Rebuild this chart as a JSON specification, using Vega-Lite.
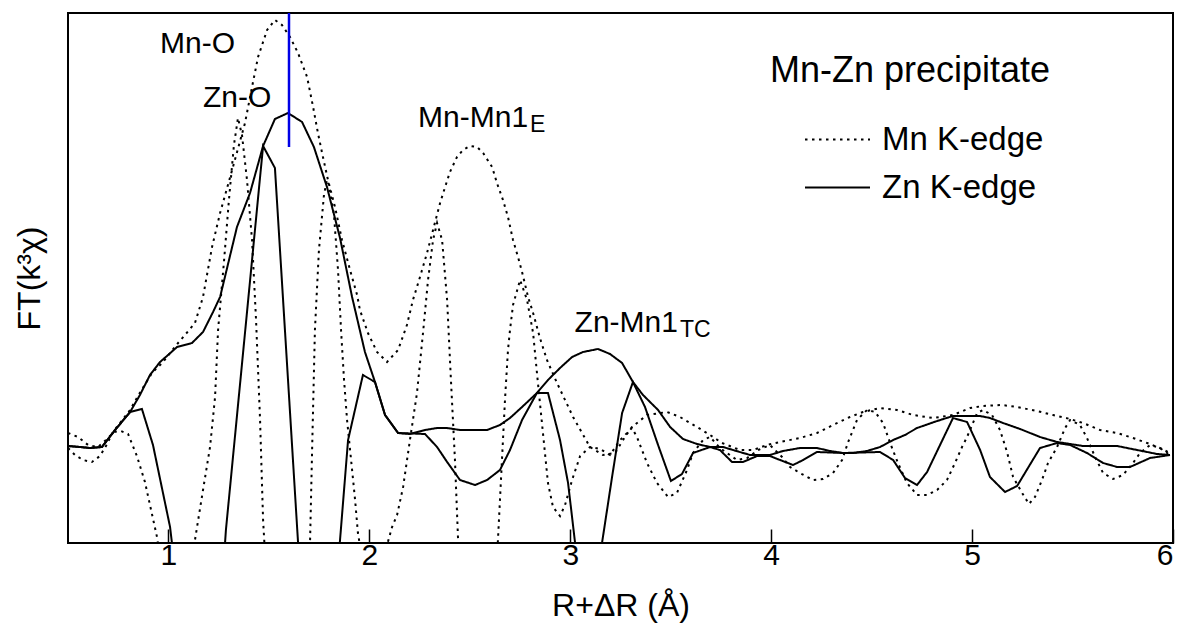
{
  "$schema": "https://vega.github.io/schema/vega-lite/v6.json",
  "width": 1105,
  "height": 530,
  "autosize": "none",
  "padding": {"left": 68, "top": 13, "right": 12, "bottom": 91},
  "config": {"view": {"stroke": "black", "strokeWidth": 2}, "font": "Liberation Sans"},
  "datasets": {
    "ft": [
      {"edge":"Mn K-edge","part":"magnitude","R":0.500,"FT":0.14},{"edge":"Mn K-edge","part":"magnitude","R":0.535,"FT":0.00},{"edge":"Mn K-edge","part":"magnitude","R":0.575,"FT":-0.10},{"edge":"Mn K-edge","part":"magnitude","R":0.619,"FT":-0.14},{"edge":"Mn K-edge","part":"magnitude","R":0.659,"FT":-0.02},{"edge":"Mn K-edge","part":"magnitude","R":0.689,"FT":0.18},{"edge":"Mn K-edge","part":"magnitude","R":0.724,"FT":0.46},{"edge":"Mn K-edge","part":"magnitude","R":0.759,"FT":0.64},{"edge":"Mn K-edge","part":"magnitude","R":0.809,"FT":0.90},{"edge":"Mn K-edge","part":"magnitude","R":0.848,"FT":1.18},{"edge":"Mn K-edge","part":"magnitude","R":0.918,"FT":1.64},{"edge":"Mn K-edge","part":"magnitude","R":0.973,"FT":1.86},{"edge":"Mn K-edge","part":"magnitude","R":1.008,"FT":2.04},{"edge":"Mn K-edge","part":"magnitude","R":1.048,"FT":2.24},{"edge":"Mn K-edge","part":"magnitude","R":1.082,"FT":2.40},{"edge":"Mn K-edge","part":"magnitude","R":1.132,"FT":2.64},{"edge":"Mn K-edge","part":"magnitude","R":1.172,"FT":3.16},{"edge":"Mn K-edge","part":"magnitude","R":1.217,"FT":4.16},{"edge":"Mn K-edge","part":"magnitude","R":1.257,"FT":4.84},{"edge":"Mn K-edge","part":"magnitude","R":1.321,"FT":5.76},{"edge":"Mn K-edge","part":"magnitude","R":1.381,"FT":6.64},{"edge":"Mn K-edge","part":"magnitude","R":1.416,"FT":7.36},{"edge":"Mn K-edge","part":"magnitude","R":1.446,"FT":7.96},{"edge":"Mn K-edge","part":"magnitude","R":1.491,"FT":8.50},{"edge":"Mn K-edge","part":"magnitude","R":1.530,"FT":8.70},{"edge":"Mn K-edge","part":"magnitude","R":1.565,"FT":8.60},{"edge":"Mn K-edge","part":"magnitude","R":1.605,"FT":8.36},{"edge":"Mn K-edge","part":"magnitude","R":1.645,"FT":8.04},{"edge":"Mn K-edge","part":"magnitude","R":1.690,"FT":7.56},{"edge":"Mn K-edge","part":"magnitude","R":1.720,"FT":6.96},{"edge":"Mn K-edge","part":"magnitude","R":1.744,"FT":6.44},{"edge":"Mn K-edge","part":"magnitude","R":1.769,"FT":5.96},{"edge":"Mn K-edge","part":"magnitude","R":1.794,"FT":5.50},{"edge":"Mn K-edge","part":"magnitude","R":1.829,"FT":4.96},{"edge":"Mn K-edge","part":"magnitude","R":1.864,"FT":4.30},{"edge":"Mn K-edge","part":"magnitude","R":1.904,"FT":3.70},{"edge":"Mn K-edge","part":"magnitude","R":1.939,"FT":3.20},{"edge":"Mn K-edge","part":"magnitude","R":1.953,"FT":2.90},{"edge":"Mn K-edge","part":"magnitude","R":1.993,"FT":2.44},{"edge":"Mn K-edge","part":"magnitude","R":2.038,"FT":2.06},{"edge":"Mn K-edge","part":"magnitude","R":2.088,"FT":1.86},{"edge":"Mn K-edge","part":"magnitude","R":2.143,"FT":2.10},{"edge":"Mn K-edge","part":"magnitude","R":2.187,"FT":2.60},{"edge":"Mn K-edge","part":"magnitude","R":2.217,"FT":3.10},{"edge":"Mn K-edge","part":"magnitude","R":2.252,"FT":3.56},{"edge":"Mn K-edge","part":"magnitude","R":2.287,"FT":4.04},{"edge":"Mn K-edge","part":"magnitude","R":2.317,"FT":4.50},{"edge":"Mn K-edge","part":"magnitude","R":2.352,"FT":5.04},{"edge":"Mn K-edge","part":"magnitude","R":2.377,"FT":5.36},{"edge":"Mn K-edge","part":"magnitude","R":2.401,"FT":5.66},{"edge":"Mn K-edge","part":"magnitude","R":2.436,"FT":5.96},{"edge":"Mn K-edge","part":"magnitude","R":2.466,"FT":6.10},{"edge":"Mn K-edge","part":"magnitude","R":2.501,"FT":6.18},{"edge":"Mn K-edge","part":"magnitude","R":2.536,"FT":6.16},{"edge":"Mn K-edge","part":"magnitude","R":2.566,"FT":6.04},{"edge":"Mn K-edge","part":"magnitude","R":2.611,"FT":5.76},{"edge":"Mn K-edge","part":"magnitude","R":2.635,"FT":5.44},{"edge":"Mn K-edge","part":"magnitude","R":2.665,"FT":5.10},{"edge":"Mn K-edge","part":"magnitude","R":2.690,"FT":4.76},{"edge":"Mn K-edge","part":"magnitude","R":2.715,"FT":4.30},{"edge":"Mn K-edge","part":"magnitude","R":2.740,"FT":3.96},{"edge":"Mn K-edge","part":"magnitude","R":2.760,"FT":3.66},{"edge":"Mn K-edge","part":"magnitude","R":2.790,"FT":3.16},{"edge":"Mn K-edge","part":"magnitude","R":2.815,"FT":2.84},{"edge":"Mn K-edge","part":"magnitude","R":2.849,"FT":2.34},{"edge":"Mn K-edge","part":"magnitude","R":2.884,"FT":1.90},{"edge":"Mn K-edge","part":"magnitude","R":2.934,"FT":1.44},{"edge":"Mn K-edge","part":"magnitude","R":3.014,"FT":0.76},{"edge":"Mn K-edge","part":"magnitude","R":3.098,"FT":0.16},{"edge":"Mn K-edge","part":"magnitude","R":3.163,"FT":0.00},{"edge":"Mn K-edge","part":"magnitude","R":3.223,"FT":0.04},{"edge":"Mn K-edge","part":"magnitude","R":3.272,"FT":0.36},{"edge":"Mn K-edge","part":"magnitude","R":3.307,"FT":0.56},{"edge":"Mn K-edge","part":"magnitude","R":3.382,"FT":0.80},{"edge":"Mn K-edge","part":"magnitude","R":3.482,"FT":0.86},{"edge":"Mn K-edge","part":"magnitude","R":3.546,"FT":0.76},{"edge":"Mn K-edge","part":"magnitude","R":3.631,"FT":0.56},{"edge":"Mn K-edge","part":"magnitude","R":3.696,"FT":0.40},{"edge":"Mn K-edge","part":"magnitude","R":3.755,"FT":0.24},{"edge":"Mn K-edge","part":"magnitude","R":3.845,"FT":0.10},{"edge":"Mn K-edge","part":"magnitude","R":3.910,"FT":0.10},{"edge":"Mn K-edge","part":"magnitude","R":3.979,"FT":0.20},{"edge":"Mn K-edge","part":"magnitude","R":4.044,"FT":0.26},{"edge":"Mn K-edge","part":"magnitude","R":4.143,"FT":0.34},{"edge":"Mn K-edge","part":"magnitude","R":4.228,"FT":0.44},{"edge":"Mn K-edge","part":"magnitude","R":4.308,"FT":0.60},{"edge":"Mn K-edge","part":"magnitude","R":4.392,"FT":0.76},{"edge":"Mn K-edge","part":"magnitude","R":4.457,"FT":0.86},{"edge":"Mn K-edge","part":"magnitude","R":4.542,"FT":0.94},{"edge":"Mn K-edge","part":"magnitude","R":4.626,"FT":0.90},{"edge":"Mn K-edge","part":"magnitude","R":4.706,"FT":0.80},{"edge":"Mn K-edge","part":"magnitude","R":4.806,"FT":0.74},{"edge":"Mn K-edge","part":"magnitude","R":4.905,"FT":0.80},{"edge":"Mn K-edge","part":"magnitude","R":4.990,"FT":0.94},{"edge":"Mn K-edge","part":"magnitude","R":5.055,"FT":0.98},{"edge":"Mn K-edge","part":"magnitude","R":5.149,"FT":1.00},{"edge":"Mn K-edge","part":"magnitude","R":5.224,"FT":0.96},{"edge":"Mn K-edge","part":"magnitude","R":5.323,"FT":0.88},{"edge":"Mn K-edge","part":"magnitude","R":5.403,"FT":0.80},{"edge":"Mn K-edge","part":"magnitude","R":5.488,"FT":0.72},{"edge":"Mn K-edge","part":"magnitude","R":5.552,"FT":0.64},{"edge":"Mn K-edge","part":"magnitude","R":5.637,"FT":0.50},{"edge":"Mn K-edge","part":"magnitude","R":5.722,"FT":0.44},{"edge":"Mn K-edge","part":"magnitude","R":5.801,"FT":0.34},{"edge":"Mn K-edge","part":"magnitude","R":5.871,"FT":0.24},{"edge":"Mn K-edge","part":"magnitude","R":5.935,"FT":0.14},{"edge":"Mn K-edge","part":"magnitude","R":5.985,"FT":0.04},

      {"edge":"Mn K-edge","part":"imaginary","R":0.500,"FT":0.44},{"edge":"Mn K-edge","part":"imaginary","R":0.550,"FT":0.36},{"edge":"Mn K-edge","part":"imaginary","R":0.600,"FT":0.20},{"edge":"Mn K-edge","part":"imaginary","R":0.649,"FT":0.16},{"edge":"Mn K-edge","part":"imaginary","R":0.689,"FT":0.30},{"edge":"Mn K-edge","part":"imaginary","R":0.729,"FT":0.46},{"edge":"Mn K-edge","part":"imaginary","R":0.764,"FT":0.48},{"edge":"Mn K-edge","part":"imaginary","R":0.799,"FT":0.42},{"edge":"Mn K-edge","part":"imaginary","R":0.843,"FT":-0.02},{"edge":"Mn K-edge","part":"imaginary","R":0.883,"FT":-0.54},{"edge":"Mn K-edge","part":"imaginary","R":0.908,"FT":-1.00},{"edge":"Mn K-edge","part":"imaginary","R":0.943,"FT":-1.64},{"edge":"Mn K-edge","part":"imaginary","R":0.983,"FT":-2.70},{"edge":"Mn K-edge","part":"imaginary","R":1.038,"FT":-3.70},{"edge":"Mn K-edge","part":"imaginary","R":1.092,"FT":-2.90},{"edge":"Mn K-edge","part":"imaginary","R":1.132,"FT":-1.70},{"edge":"Mn K-edge","part":"imaginary","R":1.172,"FT":-0.70},{"edge":"Mn K-edge","part":"imaginary","R":1.207,"FT":0.16},{"edge":"Mn K-edge","part":"imaginary","R":1.232,"FT":1.16},{"edge":"Mn K-edge","part":"imaginary","R":1.247,"FT":2.50},{"edge":"Mn K-edge","part":"imaginary","R":1.277,"FT":3.90},{"edge":"Mn K-edge","part":"imaginary","R":1.301,"FT":5.10},{"edge":"Mn K-edge","part":"imaginary","R":1.326,"FT":6.20},{"edge":"Mn K-edge","part":"imaginary","R":1.346,"FT":6.74},{"edge":"Mn K-edge","part":"imaginary","R":1.366,"FT":6.40},{"edge":"Mn K-edge","part":"imaginary","R":1.391,"FT":5.50},{"edge":"Mn K-edge","part":"imaginary","R":1.416,"FT":4.30},{"edge":"Mn K-edge","part":"imaginary","R":1.436,"FT":2.70},{"edge":"Mn K-edge","part":"imaginary","R":1.456,"FT":0.70},{"edge":"Mn K-edge","part":"imaginary","R":1.471,"FT":-1.30},{"edge":"Mn K-edge","part":"imaginary","R":1.505,"FT":-3.70},{"edge":"Mn K-edge","part":"imaginary","R":1.590,"FT":-5.30},{"edge":"Mn K-edge","part":"imaginary","R":1.675,"FT":-3.70},{"edge":"Mn K-edge","part":"imaginary","R":1.705,"FT":-1.70},{"edge":"Mn K-edge","part":"imaginary","R":1.715,"FT":0.10},{"edge":"Mn K-edge","part":"imaginary","R":1.729,"FT":2.50},{"edge":"Mn K-edge","part":"imaginary","R":1.749,"FT":4.10},{"edge":"Mn K-edge","part":"imaginary","R":1.774,"FT":5.20},{"edge":"Mn K-edge","part":"imaginary","R":1.789,"FT":5.50},{"edge":"Mn K-edge","part":"imaginary","R":1.799,"FT":5.40},{"edge":"Mn K-edge","part":"imaginary","R":1.824,"FT":4.80},{"edge":"Mn K-edge","part":"imaginary","R":1.844,"FT":3.70},{"edge":"Mn K-edge","part":"imaginary","R":1.859,"FT":2.50},{"edge":"Mn K-edge","part":"imaginary","R":1.874,"FT":1.50},{"edge":"Mn K-edge","part":"imaginary","R":1.889,"FT":0.70},{"edge":"Mn K-edge","part":"imaginary","R":1.904,"FT":0.10},{"edge":"Mn K-edge","part":"imaginary","R":1.929,"FT":-0.90},{"edge":"Mn K-edge","part":"imaginary","R":1.943,"FT":-1.56},{"edge":"Mn K-edge","part":"imaginary","R":1.978,"FT":-2.40},{"edge":"Mn K-edge","part":"imaginary","R":2.013,"FT":-2.70},{"edge":"Mn K-edge","part":"imaginary","R":2.053,"FT":-2.40},{"edge":"Mn K-edge","part":"imaginary","R":2.088,"FT":-1.80},{"edge":"Mn K-edge","part":"imaginary","R":2.113,"FT":-1.44},{"edge":"Mn K-edge","part":"imaginary","R":2.138,"FT":-1.20},{"edge":"Mn K-edge","part":"imaginary","R":2.168,"FT":-0.64},{"edge":"Mn K-edge","part":"imaginary","R":2.202,"FT":0.30},{"edge":"Mn K-edge","part":"imaginary","R":2.237,"FT":1.24},{"edge":"Mn K-edge","part":"imaginary","R":2.267,"FT":2.44},{"edge":"Mn K-edge","part":"imaginary","R":2.292,"FT":3.50},{"edge":"Mn K-edge","part":"imaginary","R":2.317,"FT":4.30},{"edge":"Mn K-edge","part":"imaginary","R":2.337,"FT":4.64},{"edge":"Mn K-edge","part":"imaginary","R":2.362,"FT":4.30},{"edge":"Mn K-edge","part":"imaginary","R":2.387,"FT":3.10},{"edge":"Mn K-edge","part":"imaginary","R":2.406,"FT":1.50},{"edge":"Mn K-edge","part":"imaginary","R":2.426,"FT":-0.10},{"edge":"Mn K-edge","part":"imaginary","R":2.441,"FT":-1.64},{"edge":"Mn K-edge","part":"imaginary","R":2.461,"FT":-2.90},{"edge":"Mn K-edge","part":"imaginary","R":2.541,"FT":-5.30},{"edge":"Mn K-edge","part":"imaginary","R":2.620,"FT":-2.90},{"edge":"Mn K-edge","part":"imaginary","R":2.640,"FT":-1.70},{"edge":"Mn K-edge","part":"imaginary","R":2.650,"FT":-0.90},{"edge":"Mn K-edge","part":"imaginary","R":2.675,"FT":1.10},{"edge":"Mn K-edge","part":"imaginary","R":2.690,"FT":2.10},{"edge":"Mn K-edge","part":"imaginary","R":2.700,"FT":2.50},{"edge":"Mn K-edge","part":"imaginary","R":2.715,"FT":3.00},{"edge":"Mn K-edge","part":"imaginary","R":2.750,"FT":3.50},{"edge":"Mn K-edge","part":"imaginary","R":2.785,"FT":3.10},{"edge":"Mn K-edge","part":"imaginary","R":2.815,"FT":2.44},{"edge":"Mn K-edge","part":"imaginary","R":2.839,"FT":1.44},{"edge":"Mn K-edge","part":"imaginary","R":2.864,"FT":0.44},{"edge":"Mn K-edge","part":"imaginary","R":2.889,"FT":-0.56},{"edge":"Mn K-edge","part":"imaginary","R":2.914,"FT":-1.04},{"edge":"Mn K-edge","part":"imaginary","R":2.949,"FT":-1.22},{"edge":"Mn K-edge","part":"imaginary","R":2.974,"FT":-1.00},{"edge":"Mn K-edge","part":"imaginary","R":3.009,"FT":-0.50},{"edge":"Mn K-edge","part":"imaginary","R":3.049,"FT":-0.02},{"edge":"Mn K-edge","part":"imaginary","R":3.098,"FT":0.16},{"edge":"Mn K-edge","part":"imaginary","R":3.148,"FT":0.12},{"edge":"Mn K-edge","part":"imaginary","R":3.198,"FT":0.00},{"edge":"Mn K-edge","part":"imaginary","R":3.248,"FT":0.30},{"edge":"Mn K-edge","part":"imaginary","R":3.307,"FT":0.54},{"edge":"Mn K-edge","part":"imaginary","R":3.332,"FT":0.36},{"edge":"Mn K-edge","part":"imaginary","R":3.382,"FT":-0.16},{"edge":"Mn K-edge","part":"imaginary","R":3.432,"FT":-0.56},{"edge":"Mn K-edge","part":"imaginary","R":3.487,"FT":-0.84},{"edge":"Mn K-edge","part":"imaginary","R":3.531,"FT":-0.76},{"edge":"Mn K-edge","part":"imaginary","R":3.581,"FT":-0.30},{"edge":"Mn K-edge","part":"imaginary","R":3.611,"FT":0.04},{"edge":"Mn K-edge","part":"imaginary","R":3.661,"FT":0.30},{"edge":"Mn K-edge","part":"imaginary","R":3.696,"FT":0.36},{"edge":"Mn K-edge","part":"imaginary","R":3.745,"FT":0.14},{"edge":"Mn K-edge","part":"imaginary","R":3.780,"FT":0.04},{"edge":"Mn K-edge","part":"imaginary","R":3.830,"FT":-0.10},{"edge":"Mn K-edge","part":"imaginary","R":3.880,"FT":-0.06},{"edge":"Mn K-edge","part":"imaginary","R":3.935,"FT":0.10},{"edge":"Mn K-edge","part":"imaginary","R":3.994,"FT":0.20},{"edge":"Mn K-edge","part":"imaginary","R":4.054,"FT":-0.04},{"edge":"Mn K-edge","part":"imaginary","R":4.094,"FT":-0.24},{"edge":"Mn K-edge","part":"imaginary","R":4.143,"FT":-0.36},{"edge":"Mn K-edge","part":"imaginary","R":4.208,"FT":-0.50},{"edge":"Mn K-edge","part":"imaginary","R":4.258,"FT":-0.48},{"edge":"Mn K-edge","part":"imaginary","R":4.308,"FT":-0.36},{"edge":"Mn K-edge","part":"imaginary","R":4.353,"FT":-0.10},{"edge":"Mn K-edge","part":"imaginary","R":4.383,"FT":0.26},{"edge":"Mn K-edge","part":"imaginary","R":4.427,"FT":0.70},{"edge":"Mn K-edge","part":"imaginary","R":4.477,"FT":0.90},{"edge":"Mn K-edge","part":"imaginary","R":4.517,"FT":0.86},{"edge":"Mn K-edge","part":"imaginary","R":4.557,"FT":0.64},{"edge":"Mn K-edge","part":"imaginary","R":4.592,"FT":0.24},{"edge":"Mn K-edge","part":"imaginary","R":4.631,"FT":-0.16},{"edge":"Mn K-edge","part":"imaginary","R":4.676,"FT":-0.56},{"edge":"Mn K-edge","part":"imaginary","R":4.726,"FT":-0.80},{"edge":"Mn K-edge","part":"imaginary","R":4.776,"FT":-0.80},{"edge":"Mn K-edge","part":"imaginary","R":4.826,"FT":-0.70},{"edge":"Mn K-edge","part":"imaginary","R":4.875,"FT":-0.50},{"edge":"Mn K-edge","part":"imaginary","R":4.915,"FT":-0.16},{"edge":"Mn K-edge","part":"imaginary","R":4.950,"FT":0.16},{"edge":"Mn K-edge","part":"imaginary","R":4.975,"FT":0.36},{"edge":"Mn K-edge","part":"imaginary","R":5.025,"FT":0.84},{"edge":"Mn K-edge","part":"imaginary","R":5.055,"FT":0.90},{"edge":"Mn K-edge","part":"imaginary","R":5.099,"FT":0.80},{"edge":"Mn K-edge","part":"imaginary","R":5.139,"FT":0.50},{"edge":"Mn K-edge","part":"imaginary","R":5.174,"FT":0.06},{"edge":"Mn K-edge","part":"imaginary","R":5.204,"FT":-0.44},{"edge":"Mn K-edge","part":"imaginary","R":5.249,"FT":-0.76},{"edge":"Mn K-edge","part":"imaginary","R":5.283,"FT":-0.98},{"edge":"Mn K-edge","part":"imaginary","R":5.313,"FT":-0.84},{"edge":"Mn K-edge","part":"imaginary","R":5.348,"FT":-0.50},{"edge":"Mn K-edge","part":"imaginary","R":5.378,"FT":-0.16},{"edge":"Mn K-edge","part":"imaginary","R":5.423,"FT":0.16},{"edge":"Mn K-edge","part":"imaginary","R":5.463,"FT":0.54},{"edge":"Mn K-edge","part":"imaginary","R":5.488,"FT":0.70},{"edge":"Mn K-edge","part":"imaginary","R":5.537,"FT":0.60},{"edge":"Mn K-edge","part":"imaginary","R":5.572,"FT":0.34},{"edge":"Mn K-edge","part":"imaginary","R":5.612,"FT":-0.04},{"edge":"Mn K-edge","part":"imaginary","R":5.652,"FT":-0.36},{"edge":"Mn K-edge","part":"imaginary","R":5.702,"FT":-0.48},{"edge":"Mn K-edge","part":"imaginary","R":5.751,"FT":-0.40},{"edge":"Mn K-edge","part":"imaginary","R":5.801,"FT":-0.16},{"edge":"Mn K-edge","part":"imaginary","R":5.836,"FT":0.04},{"edge":"Mn K-edge","part":"imaginary","R":5.886,"FT":0.20},{"edge":"Mn K-edge","part":"imaginary","R":5.935,"FT":0.14},{"edge":"Mn K-edge","part":"imaginary","R":5.985,"FT":0.00},

      {"edge":"Zn K-edge","part":"magnitude","R":0.500,"FT":0.18},{"edge":"Zn K-edge","part":"magnitude","R":0.560,"FT":0.16},{"edge":"Zn K-edge","part":"magnitude","R":0.610,"FT":0.14},{"edge":"Zn K-edge","part":"magnitude","R":0.669,"FT":0.16},{"edge":"Zn K-edge","part":"magnitude","R":0.734,"FT":0.50},{"edge":"Zn K-edge","part":"magnitude","R":0.809,"FT":0.86},{"edge":"Zn K-edge","part":"magnitude","R":0.858,"FT":1.20},{"edge":"Zn K-edge","part":"magnitude","R":0.908,"FT":1.60},{"edge":"Zn K-edge","part":"magnitude","R":0.958,"FT":1.86},{"edge":"Zn K-edge","part":"magnitude","R":0.998,"FT":2.00},{"edge":"Zn K-edge","part":"magnitude","R":1.043,"FT":2.16},{"edge":"Zn K-edge","part":"magnitude","R":1.117,"FT":2.24},{"edge":"Zn K-edge","part":"magnitude","R":1.172,"FT":2.46},{"edge":"Zn K-edge","part":"magnitude","R":1.222,"FT":2.86},{"edge":"Zn K-edge","part":"magnitude","R":1.257,"FT":3.16},{"edge":"Zn K-edge","part":"magnitude","R":1.341,"FT":4.56},{"edge":"Zn K-edge","part":"magnitude","R":1.406,"FT":5.24},{"edge":"Zn K-edge","part":"magnitude","R":1.471,"FT":6.18},{"edge":"Zn K-edge","part":"magnitude","R":1.530,"FT":6.72},{"edge":"Zn K-edge","part":"magnitude","R":1.595,"FT":6.84},{"edge":"Zn K-edge","part":"magnitude","R":1.665,"FT":6.66},{"edge":"Zn K-edge","part":"magnitude","R":1.724,"FT":6.16},{"edge":"Zn K-edge","part":"magnitude","R":1.789,"FT":5.36},{"edge":"Zn K-edge","part":"magnitude","R":1.854,"FT":4.34},{"edge":"Zn K-edge","part":"magnitude","R":1.914,"FT":3.16},{"edge":"Zn K-edge","part":"magnitude","R":1.978,"FT":2.06},{"edge":"Zn K-edge","part":"magnitude","R":2.028,"FT":1.46},{"edge":"Zn K-edge","part":"magnitude","R":2.078,"FT":0.80},{"edge":"Zn K-edge","part":"magnitude","R":2.143,"FT":0.44},{"edge":"Zn K-edge","part":"magnitude","R":2.202,"FT":0.42},{"edge":"Zn K-edge","part":"magnitude","R":2.277,"FT":0.50},{"edge":"Zn K-edge","part":"magnitude","R":2.337,"FT":0.54},{"edge":"Zn K-edge","part":"magnitude","R":2.387,"FT":0.54},{"edge":"Zn K-edge","part":"magnitude","R":2.451,"FT":0.50},{"edge":"Zn K-edge","part":"magnitude","R":2.586,"FT":0.50},{"edge":"Zn K-edge","part":"magnitude","R":2.650,"FT":0.60},{"edge":"Zn K-edge","part":"magnitude","R":2.700,"FT":0.74},{"edge":"Zn K-edge","part":"magnitude","R":2.760,"FT":0.96},{"edge":"Zn K-edge","part":"magnitude","R":2.834,"FT":1.24},{"edge":"Zn K-edge","part":"magnitude","R":2.889,"FT":1.50},{"edge":"Zn K-edge","part":"magnitude","R":2.949,"FT":1.74},{"edge":"Zn K-edge","part":"magnitude","R":3.009,"FT":1.96},{"edge":"Zn K-edge","part":"magnitude","R":3.063,"FT":2.06},{"edge":"Zn K-edge","part":"magnitude","R":3.138,"FT":2.12},{"edge":"Zn K-edge","part":"magnitude","R":3.198,"FT":2.02},{"edge":"Zn K-edge","part":"magnitude","R":3.258,"FT":1.84},{"edge":"Zn K-edge","part":"magnitude","R":3.312,"FT":1.46},{"edge":"Zn K-edge","part":"magnitude","R":3.362,"FT":1.20},{"edge":"Zn K-edge","part":"magnitude","R":3.437,"FT":0.90},{"edge":"Zn K-edge","part":"magnitude","R":3.497,"FT":0.56},{"edge":"Zn K-edge","part":"magnitude","R":3.561,"FT":0.32},{"edge":"Zn K-edge","part":"magnitude","R":3.631,"FT":0.22},{"edge":"Zn K-edge","part":"magnitude","R":3.696,"FT":0.16},{"edge":"Zn K-edge","part":"magnitude","R":3.760,"FT":0.16},{"edge":"Zn K-edge","part":"magnitude","R":3.810,"FT":0.10},{"edge":"Zn K-edge","part":"magnitude","R":3.895,"FT":0.00},{"edge":"Zn K-edge","part":"magnitude","R":3.994,"FT":0.00},{"edge":"Zn K-edge","part":"magnitude","R":4.059,"FT":0.08},{"edge":"Zn K-edge","part":"magnitude","R":4.143,"FT":0.14},{"edge":"Zn K-edge","part":"magnitude","R":4.228,"FT":0.14},{"edge":"Zn K-edge","part":"magnitude","R":4.293,"FT":0.08},{"edge":"Zn K-edge","part":"magnitude","R":4.358,"FT":0.04},{"edge":"Zn K-edge","part":"magnitude","R":4.407,"FT":0.04},{"edge":"Zn K-edge","part":"magnitude","R":4.477,"FT":0.08},{"edge":"Zn K-edge","part":"magnitude","R":4.542,"FT":0.16},{"edge":"Zn K-edge","part":"magnitude","R":4.607,"FT":0.30},{"edge":"Zn K-edge","part":"magnitude","R":4.666,"FT":0.40},{"edge":"Zn K-edge","part":"magnitude","R":4.726,"FT":0.54},{"edge":"Zn K-edge","part":"magnitude","R":4.826,"FT":0.68},{"edge":"Zn K-edge","part":"magnitude","R":4.905,"FT":0.78},{"edge":"Zn K-edge","part":"magnitude","R":5.040,"FT":0.78},{"edge":"Zn K-edge","part":"magnitude","R":5.089,"FT":0.74},{"edge":"Zn K-edge","part":"magnitude","R":5.154,"FT":0.64},{"edge":"Zn K-edge","part":"magnitude","R":5.239,"FT":0.52},{"edge":"Zn K-edge","part":"magnitude","R":5.338,"FT":0.36},{"edge":"Zn K-edge","part":"magnitude","R":5.423,"FT":0.26},{"edge":"Zn K-edge","part":"magnitude","R":5.488,"FT":0.22},{"edge":"Zn K-edge","part":"magnitude","R":5.552,"FT":0.18},{"edge":"Zn K-edge","part":"magnitude","R":5.722,"FT":0.18},{"edge":"Zn K-edge","part":"magnitude","R":5.821,"FT":0.10},{"edge":"Zn K-edge","part":"magnitude","R":5.921,"FT":0.02},{"edge":"Zn K-edge","part":"magnitude","R":5.985,"FT":0.00},

      {"edge":"Zn K-edge","part":"imaginary","R":0.500,"FT":0.18},{"edge":"Zn K-edge","part":"imaginary","R":0.560,"FT":0.16},{"edge":"Zn K-edge","part":"imaginary","R":0.610,"FT":0.14},{"edge":"Zn K-edge","part":"imaginary","R":0.669,"FT":0.16},{"edge":"Zn K-edge","part":"imaginary","R":0.734,"FT":0.50},{"edge":"Zn K-edge","part":"imaginary","R":0.809,"FT":0.86},{"edge":"Zn K-edge","part":"imaginary","R":0.868,"FT":0.92},{"edge":"Zn K-edge","part":"imaginary","R":0.923,"FT":0.20},{"edge":"Zn K-edge","part":"imaginary","R":1.008,"FT":-1.44},{"edge":"Zn K-edge","part":"imaginary","R":1.057,"FT":-3.10},{"edge":"Zn K-edge","part":"imaginary","R":1.107,"FT":-4.50},{"edge":"Zn K-edge","part":"imaginary","R":1.232,"FT":-4.70},{"edge":"Zn K-edge","part":"imaginary","R":1.286,"FT":-1.50},{"edge":"Zn K-edge","part":"imaginary","R":1.471,"FT":6.18},{"edge":"Zn K-edge","part":"imaginary","R":1.530,"FT":5.74},{"edge":"Zn K-edge","part":"imaginary","R":1.655,"FT":-2.40},{"edge":"Zn K-edge","part":"imaginary","R":1.715,"FT":-4.70},{"edge":"Zn K-edge","part":"imaginary","R":1.779,"FT":-4.90},{"edge":"Zn K-edge","part":"imaginary","R":1.854,"FT":-1.70},{"edge":"Zn K-edge","part":"imaginary","R":1.894,"FT":0.30},{"edge":"Zn K-edge","part":"imaginary","R":1.968,"FT":1.60},{"edge":"Zn K-edge","part":"imaginary","R":2.028,"FT":1.46},{"edge":"Zn K-edge","part":"imaginary","R":2.078,"FT":0.80},{"edge":"Zn K-edge","part":"imaginary","R":2.143,"FT":0.44},{"edge":"Zn K-edge","part":"imaginary","R":2.277,"FT":0.42},{"edge":"Zn K-edge","part":"imaginary","R":2.337,"FT":0.16},{"edge":"Zn K-edge","part":"imaginary","R":2.387,"FT":-0.14},{"edge":"Zn K-edge","part":"imaginary","R":2.451,"FT":-0.50},{"edge":"Zn K-edge","part":"imaginary","R":2.526,"FT":-0.60},{"edge":"Zn K-edge","part":"imaginary","R":2.586,"FT":-0.50},{"edge":"Zn K-edge","part":"imaginary","R":2.650,"FT":-0.30},{"edge":"Zn K-edge","part":"imaginary","R":2.700,"FT":0.10},{"edge":"Zn K-edge","part":"imaginary","R":2.760,"FT":0.70},{"edge":"Zn K-edge","part":"imaginary","R":2.834,"FT":1.24},{"edge":"Zn K-edge","part":"imaginary","R":2.889,"FT":1.24},{"edge":"Zn K-edge","part":"imaginary","R":2.949,"FT":0.30},{"edge":"Zn K-edge","part":"imaginary","R":2.989,"FT":-0.56},{"edge":"Zn K-edge","part":"imaginary","R":3.024,"FT":-1.76},{"edge":"Zn K-edge","part":"imaginary","R":3.088,"FT":-3.70},{"edge":"Zn K-edge","part":"imaginary","R":3.158,"FT":-1.76},{"edge":"Zn K-edge","part":"imaginary","R":3.208,"FT":-0.44},{"edge":"Zn K-edge","part":"imaginary","R":3.258,"FT":0.84},{"edge":"Zn K-edge","part":"imaginary","R":3.312,"FT":1.46},{"edge":"Zn K-edge","part":"imaginary","R":3.372,"FT":0.96},{"edge":"Zn K-edge","part":"imaginary","R":3.437,"FT":0.20},{"edge":"Zn K-edge","part":"imaginary","R":3.501,"FT":-0.52},{"edge":"Zn K-edge","part":"imaginary","R":3.556,"FT":-0.38},{"edge":"Zn K-edge","part":"imaginary","R":3.611,"FT":0.04},{"edge":"Zn K-edge","part":"imaginary","R":3.696,"FT":0.16},{"edge":"Zn K-edge","part":"imaginary","R":3.745,"FT":0.10},{"edge":"Zn K-edge","part":"imaginary","R":3.805,"FT":-0.14},{"edge":"Zn K-edge","part":"imaginary","R":3.860,"FT":-0.14},{"edge":"Zn K-edge","part":"imaginary","R":3.930,"FT":-0.02},{"edge":"Zn K-edge","part":"imaginary","R":3.994,"FT":-0.02},{"edge":"Zn K-edge","part":"imaginary","R":4.044,"FT":-0.10},{"edge":"Zn K-edge","part":"imaginary","R":4.109,"FT":-0.20},{"edge":"Zn K-edge","part":"imaginary","R":4.159,"FT":-0.10},{"edge":"Zn K-edge","part":"imaginary","R":4.228,"FT":0.06},{"edge":"Zn K-edge","part":"imaginary","R":4.358,"FT":0.04},{"edge":"Zn K-edge","part":"imaginary","R":4.542,"FT":0.06},{"edge":"Zn K-edge","part":"imaginary","R":4.607,"FT":-0.10},{"edge":"Zn K-edge","part":"imaginary","R":4.666,"FT":-0.46},{"edge":"Zn K-edge","part":"imaginary","R":4.726,"FT":-0.60},{"edge":"Zn K-edge","part":"imaginary","R":4.776,"FT":-0.34},{"edge":"Zn K-edge","part":"imaginary","R":4.905,"FT":0.74},{"edge":"Zn K-edge","part":"imaginary","R":4.975,"FT":0.66},{"edge":"Zn K-edge","part":"imaginary","R":5.040,"FT":0.10},{"edge":"Zn K-edge","part":"imaginary","R":5.089,"FT":-0.44},{"edge":"Zn K-edge","part":"imaginary","R":5.164,"FT":-0.74},{"edge":"Zn K-edge","part":"imaginary","R":5.224,"FT":-0.62},{"edge":"Zn K-edge","part":"imaginary","R":5.278,"FT":-0.26},{"edge":"Zn K-edge","part":"imaginary","R":5.338,"FT":0.14},{"edge":"Zn K-edge","part":"imaginary","R":5.423,"FT":0.24},{"edge":"Zn K-edge","part":"imaginary","R":5.488,"FT":0.20},{"edge":"Zn K-edge","part":"imaginary","R":5.572,"FT":0.04},{"edge":"Zn K-edge","part":"imaginary","R":5.652,"FT":-0.16},{"edge":"Zn K-edge","part":"imaginary","R":5.722,"FT":-0.24},{"edge":"Zn K-edge","part":"imaginary","R":5.786,"FT":-0.24},{"edge":"Zn K-edge","part":"imaginary","R":5.886,"FT":-0.06},{"edge":"Zn K-edge","part":"imaginary","R":5.985,"FT":0.00}
    ],
    "labels": [
      {"label":"Mn-O","R":0.958,"FT":8.04},
      {"label":"Zn-O","R":1.172,"FT":6.96}
    ],
    "mainsub": [
      {"label":"Mn-Mn1","R":2.790,"FT":6.56},
      {"label":"Zn-Mn1","R":3.536,"FT":2.46}
    ],
    "subs": [
      {"label":"E","R":2.790,"FT":6.46},
      {"label":"TC","R":3.536,"FT":2.36}
    ],
    "title": [
      {"label":"Mn-Zn precipitate","R":3.994,"FT":7.46}
    ],
    "marker": [
      {"R":1.6,"lo":6.16,"hi":8.84}
    ]
  },
  "layer": [
    {
      "data": {"name": "ft"},
      "mark": {"type": "line", "clip": true, "strokeWidth": 2, "color": "black"},
      "encoding": {
        "x": {"field": "R", "type": "quantitative",
          "scale": {"domain": [0.5, 6], "nice": false, "zero": false},
          "axis": {"values": [1, 2, 3, 4, 5, 6], "format": "d", "tickSize": -14, "tickWidth": 1.5, "tickColor": "black",
            "domain": false, "grid": false, "labelFontSize": 30, "labelColor": "black", "labelPadding": 11,
            "title": "R+ΔR (Å)", "titleFontSize": 32, "titleFontWeight": "normal", "titleColor": "black", "titlePadding": 20}},
        "y": {"field": "FT", "type": "quantitative",
          "scale": {"domain": [-1.76, 8.84], "nice": false, "zero": false},
          "axis": {"ticks": false, "labels": false, "domain": false, "grid": false,
            "title": "FT(k³χ)", "titleFontSize": 32, "titleFontWeight": "normal", "titleColor": "black", "titlePadding": 22}},
        "detail": {"field": "part", "type": "nominal"},
        "strokeDash": {"field": "edge", "type": "nominal",
          "scale": {"domain": ["Mn K-edge", "Zn K-edge"], "range": [[2.5, 4.5], [1, 0]]},
          "legend": {"orient": "none", "legendX": 753, "legendY": 110, "title": null, "padding": 0,
            "labelFontSize": 33, "labelFont": "Liberation Sans", "labelColor": "black", "labelLimit": 400,
            "symbolType": "M-5,0H5", "symbolSize": 169, "symbolStrokeWidth": 2, "symbolStrokeColor": "black",
            "labelOffset": 28, "rowPadding": 14}}
      }
    },
    {
      "data": {"name": "marker"},
      "mark": {"type": "rule", "clip": true, "color": "#0000e6", "strokeWidth": 2.5},
      "encoding": {
        "x": {"field": "R", "type": "quantitative"},
        "y": {"field": "lo", "type": "quantitative"},
        "y2": {"field": "hi"}
      }
    },
    {
      "data": {"name": "labels"},
      "mark": {"type": "text", "align": "left", "baseline": "alphabetic", "fontSize": 30, "color": "black"},
      "encoding": {
        "x": {"field": "R", "type": "quantitative"},
        "y": {"field": "FT", "type": "quantitative"},
        "text": {"field": "label"}
      }
    },
    {
      "data": {"name": "mainsub"},
      "mark": {"type": "text", "align": "right", "baseline": "alphabetic", "fontSize": 30, "color": "black"},
      "encoding": {
        "x": {"field": "R", "type": "quantitative"},
        "y": {"field": "FT", "type": "quantitative"},
        "text": {"field": "label"}
      }
    },
    {
      "data": {"name": "subs"},
      "mark": {"type": "text", "align": "left", "baseline": "alphabetic", "fontSize": 23, "dx": 2, "color": "black"},
      "encoding": {
        "x": {"field": "R", "type": "quantitative"},
        "y": {"field": "FT", "type": "quantitative"},
        "text": {"field": "label"}
      }
    },
    {
      "data": {"name": "title"},
      "mark": {"type": "text", "align": "left", "baseline": "alphabetic", "fontSize": 36, "color": "black"},
      "encoding": {
        "x": {"field": "R", "type": "quantitative"},
        "y": {"field": "FT", "type": "quantitative"},
        "text": {"field": "label"}
      }
    }
  ]
}
